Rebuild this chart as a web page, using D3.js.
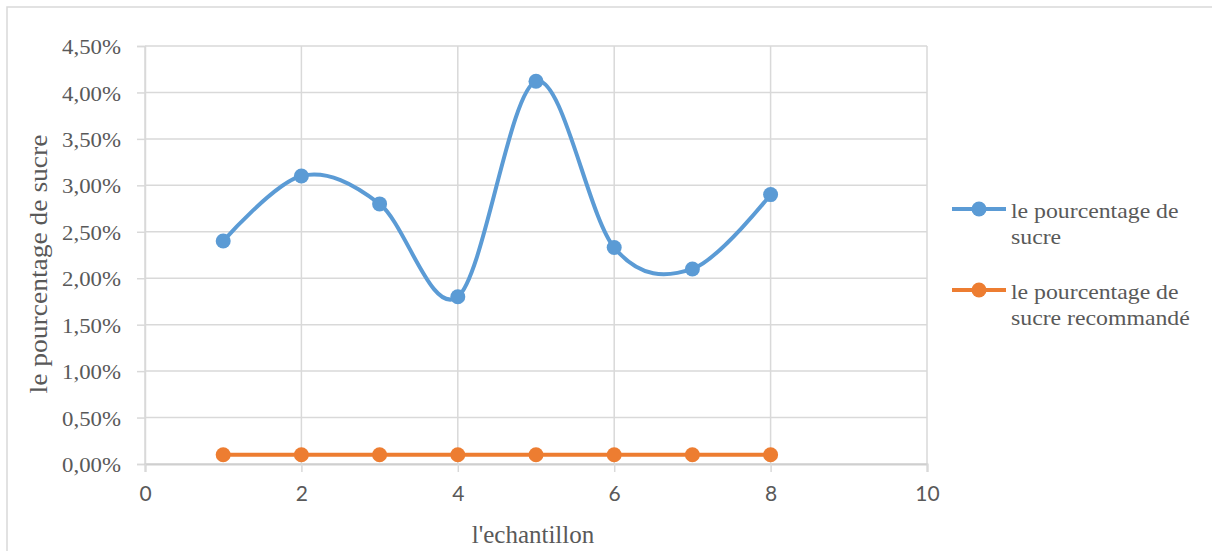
<!DOCTYPE html>
<html>
<head>
<meta charset="utf-8">
<script src="https://cdn.jsdelivr.net/npm/d3@7"></script>
<style>
  html, body { margin: 0; padding: 0; background: #fff; }
  svg { display: block; }
</style>
</head>
<body>
<svg id="chart" width="1212" height="551"></svg>
<script>
// ---- data ----
const samples = [1, 2, 3, 4, 5, 6, 7, 8];
const sugar = [0.024, 0.031, 0.028, 0.018, 0.0412, 0.0233, 0.021, 0.029];
const recommended = [0.001, 0.001, 0.001, 0.001, 0.001, 0.001, 0.001, 0.001];
const xTicks = [0, 2, 4, 6, 8, 10];
const yTicks = [0, 0.005, 0.01, 0.015, 0.02, 0.025, 0.03, 0.035, 0.04, 0.045];
const seriesNames = ["le pourcentage de sucre", "le pourcentage de sucre recommandé"];
const legendLines = [["le pourcentage de", "sucre"], ["le pourcentage de", "sucre recommandé"]];
const xTitle = "l'echantillon";
const yTitle = "le pourcentage de sucre";

const blue = "#5B9BD5", orange = "#ED7D31";
const grid = "#D9D9D9", textCol = "#595959";
const serif = "'Liberation Serif', 'Times New Roman', serif";

const svg = d3.select("#chart");

// chart border
svg.append("rect").attr("x", 7).attr("y", 7).attr("width", 1230).attr("height", 570)
  .attr("fill", "none").attr("stroke", grid).attr("stroke-width", 1.5);

const x = d3.scaleLinear().domain([0, 10]).range([145, 927]);
const y = d3.scaleLinear().domain([0, 0.045]).range([464, 46]);

function stretch(sel, f) {
  sel.each(function () {
    const L = this.getComputedTextLength();
    d3.select(this).attr("textLength", L * f).attr("lengthAdjust", "spacingAndGlyphs");
  });
}

// gridlines
svg.append("g").selectAll("line").data(yTicks).join("line")
  .attr("x1", x(0)).attr("x2", x(10)).attr("y1", d => y(d)).attr("y2", d => y(d))
  .attr("stroke", grid).attr("stroke-width", 1.5);
svg.append("g").selectAll("line").data(xTicks).join("line")
  .attr("x1", d => x(d)).attr("x2", d => x(d)).attr("y1", y(0)).attr("y2", y(0.045))
  .attr("stroke", grid).attr("stroke-width", 1.5);

// axes
const fmt = d => d3.format(".2f")(d * 100).replace(".", ",") + "%";
const yAxis = svg.append("g").attr("transform", `translate(${x(0)},0)`)
  .call(d3.axisLeft(y).tickValues(yTicks).tickFormat(fmt).tickSize(8).tickPadding(16));
yAxis.select(".domain").attr("stroke", grid).attr("stroke-width", 1.5);
yAxis.selectAll(".tick line").attr("stroke", grid).attr("stroke-width", 1.5);
yAxis.selectAll(".tick text").attr("fill", textCol).attr("font-family", serif)
  .attr("font-size", 20).attr("dy", "0.38em").call(stretch, 1.14);

const xAxis = svg.append("g").attr("transform", `translate(0,${y(0)})`)
  .call(d3.axisBottom(x).tickValues(xTicks).tickFormat(d3.format("d")).tickSize(8).tickPadding(14));
xAxis.select(".domain").attr("stroke", "#cfcfcf").attr("stroke-width", 2);
xAxis.selectAll(".tick line").attr("stroke", grid).attr("stroke-width", 1.5);
xAxis.selectAll(".tick text").attr("fill", textCol).attr("font-family", "Lato, Carlito, sans-serif")
  .attr("font-size", 21);

// titles
svg.append("text").attr("x", 533).attr("y", 543).attr("text-anchor", "middle")
  .attr("fill", textCol).attr("font-family", serif).attr("font-size", 25).text(xTitle);
svg.append("text").attr("transform", "translate(47,264) rotate(-90)").attr("text-anchor", "middle")
  .attr("fill", textCol).attr("font-family", serif).attr("font-size", 25).text(yTitle)
  .call(stretch, 1.1);

// lines
const smooth = d3.line().x((d, i) => x(samples[i])).y(d => y(d)).curve(d3.curveCardinal.tension(0));
const straight = d3.line().x((d, i) => x(samples[i])).y(d => y(d));

svg.append("path").datum(sugar).attr("d", smooth).attr("fill", "none")
  .attr("stroke", blue).attr("stroke-width", 4).attr("stroke-linejoin", "round");
svg.append("path").datum(recommended).attr("d", straight).attr("fill", "none")
  .attr("stroke", orange).attr("stroke-width", 4);

svg.append("g").selectAll("circle").data(sugar).join("circle")
  .attr("cx", (d, i) => x(samples[i])).attr("cy", d => y(d)).attr("r", 7.5).attr("fill", blue);
svg.append("g").selectAll("circle").data(recommended).join("circle")
  .attr("cx", (d, i) => x(samples[i])).attr("cy", d => y(d)).attr("r", 7.5).attr("fill", orange);

// legend
const legendY = [209, 290];
const colors = [blue, orange];
const lg = svg.append("g");
seriesNames.forEach((name, k) => {
  const g = lg.append("g").attr("transform", `translate(0,${legendY[k]})`);
  g.append("line").attr("x1", 952).attr("x2", 1006).attr("y1", 0).attr("y2", 0)
    .attr("stroke", colors[k]).attr("stroke-width", 4);
  g.append("circle").attr("cx", 979).attr("cy", 0).attr("r", 7.5).attr("fill", colors[k]);
  legendLines[k].forEach((ln, j) => {
    g.append("text").attr("x", 1011).attr("y", 9 + j * 26)
      .attr("fill", textCol).attr("font-family", serif).attr("font-size", 22)
      .text(ln).call(stretch, 1.08);
  });
});
</script>
</body>
</html>
